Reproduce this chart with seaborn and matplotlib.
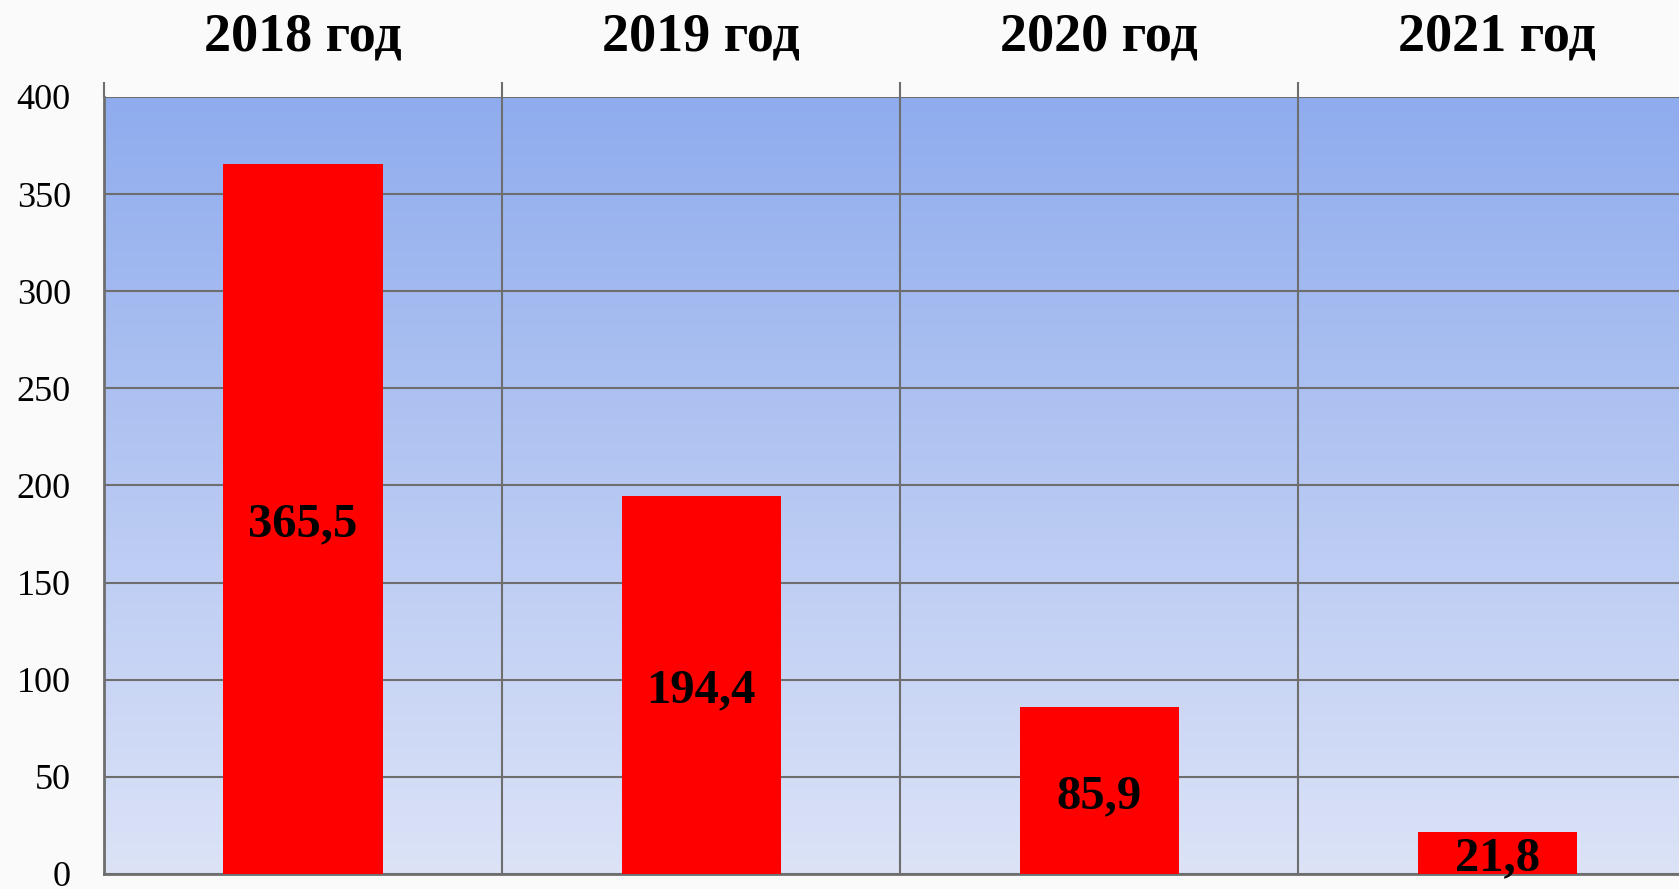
# %% Library imports

import numpy as np
import pandas as pd
import seaborn as sns
import matplotlib.pyplot as plt
from matplotlib.colors import LinearSegmentedColormap

# %% Data

years = ["2018 год", "2019 год", "2020 год", "2021 год"]
values = [365.5, 194.4, 85.9, 21.8]
y_ticks = [0, 50, 100, 150, 200, 250, 300, 350, 400]

df = pd.DataFrame({"year": years, "value": values})

# %% Plot

sns.set_theme(style="white")
plt.rcParams['font.family'] = ['Liberation Serif', 'DejaVu Serif']

fig = plt.figure(figsize=(16.79, 8.89), dpi=100, facecolor="#FAFAFA")
ax = fig.add_axes([0.062, 0.0169, 0.938, 0.874])

# blue gradient background of the plot area
grad = LinearSegmentedColormap.from_list("bg", ["#DCE3F7", "#8FACEE"])
ax.imshow(np.linspace(0, 1, 256).reshape(-1, 1), cmap=grad, aspect="auto",
          extent=(-0.5, 3.5, 0, 400), origin="lower", zorder=0)

sns.barplot(data=df, x="year", y="value", color="#FF0000", width=0.4,
            saturation=1, edgecolor="none", ax=ax, zorder=3)

# value labels in the middle of each bar, comma as decimal mark
for i, v in enumerate(values):
    ax.annotate(str(v).replace(".", ","), xy=(i, v / 2), xytext=(0, -4),
                textcoords="offset points", ha="center", va="center",
                fontsize=35, fontweight="bold", color="black", zorder=4)

ax.set_yticks(y_ticks)
ax.tick_params(axis="y", length=0, pad=24, labelsize=26, colors="black")

ax.xaxis.tick_top()
ax.set_xticks(range(len(years)))
ax.set_xticklabels(years, fontsize=39, fontweight="bold")
ax.set_xticks([-0.5, 0.5, 1.5, 2.5, 3.5], minor=True)
ax.tick_params(axis="x", which="major", length=0, pad=25, colors="black")
ax.tick_params(axis="x", which="minor", length=11, width=1.5,
               color="#6E6E6E", direction="out", top=True, bottom=False)

# limits after the ticks, set_xticks would widen them again
ax.set_xlim(-0.5, 3.457)
ax.set_ylim(0, 400)

ax.grid(axis="y", color="#6E6E6E", linewidth=1.5, zorder=1)
ax.grid(axis="x", which="minor", color="#6E6E6E", linewidth=1.5, zorder=1)
ax.grid(axis="x", which="major", visible=False)
ax.set_axisbelow(True)

for side in ["right", "top"]:
    ax.spines[side].set_visible(False)
for side in ["left", "bottom"]:
    ax.spines[side].set_color("#6E6E6E")
    ax.spines[side].set_linewidth(2)

ax.set_xlabel("")
ax.set_ylabel("")

plt.savefig("out.png", dpi=100, facecolor=fig.get_facecolor())
